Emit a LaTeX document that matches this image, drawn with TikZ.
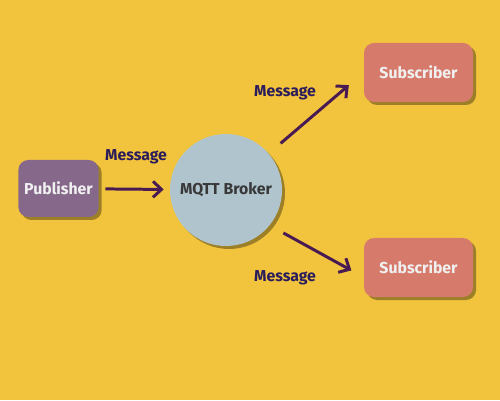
\documentclass[tikz,border=0pt]{standalone}
\usepackage{fontspec}
\setmainfont{Fira Sans}
\usetikzlibrary{arrows.meta,shadows}
\definecolor{fondo}{HTML}{F2C43D}
\definecolor{pubcol}{HTML}{86698A}
\definecolor{subcol}{HTML}{D67B6B}
\definecolor{brkcol}{HTML}{B0C4CE}
\definecolor{flecha}{HTML}{4A1A52}
\definecolor{etiq}{HTML}{2B1D5C}
\begin{document}
\begin{tikzpicture}
  [font=\fontsize{9}{11}\selectfont\bfseries,
   caja/.style={rectangle,rounded corners=0.2cm,minimum height=1.16cm,text=white!94!black,
     drop shadow={shadow xshift=0.06cm,shadow yshift=-0.06cm,fill=black,opacity=0.35}},
   msg/.style={draw=flecha,line width=1.7pt,-{Straight Barb[length=0.17cm,width=0.32cm]}},
   lbl/.style={text=etiq}]
  \fill[fondo] (0,0) rectangle (10,8);
  % Nodos: publicador, broker y suscriptores
  \node[caja,fill=pubcol,minimum width=1.54cm,minimum height=1.14cm] (pub) at (1.17,4.23) {Publisher};
  \node[circle,fill=brkcol,minimum size=2.24cm,text=black!78,
    drop shadow={shadow xshift=0.06cm,shadow yshift=-0.06cm,fill=black,opacity=0.35}] (brk) at (4.52,4.20) {MQTT Broker};
  \node[caja,fill=subcol,minimum width=2.18cm,minimum height=1.18cm] (sub1) at (8.37,6.55) {Subscriber};
  \node[caja,fill=subcol,minimum width=2.18cm,minimum height=1.18cm] (sub2) at (8.37,2.65) {Subscriber};

  % Flechas de mensajes
  \foreach \from/\to/\s/\e in {pub/brk/0.13/0.12, brk/sub1.west/0.31/0.39, brk.-39/sub2.190/0.31/0.28}
    \draw[msg,shorten <=\s cm,shorten >=\e cm] (\from) -- (\to);

  \node[lbl] (m1) at (2.72,4.86) {Message};
  \node[lbl] (m2) at (5.70,6.14) {Message};
  \node[lbl] (m3) at (5.70,2.44) {Message};
\end{tikzpicture}
\end{document}
